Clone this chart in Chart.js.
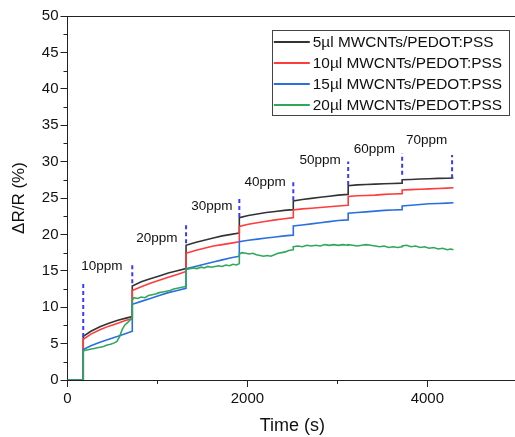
<!DOCTYPE html>
<html>
<head>
<meta charset="utf-8">
<script src="https://cdn.jsdelivr.net/npm/chart.js@4.4.0/dist/chart.umd.min.js"></script>
<style>
  html, body { margin: 0; padding: 0; background: #fff; overflow: hidden; }
  #wrap { width: 515px; height: 437px; overflow: hidden; }
</style>
</head>
<body>
<div id="wrap"><canvas id="chart" width="530" height="437"></canvas></div>
<script>
// time axis shared by the three smooth curves (s)
const time = [0, 174,
  175, 260, 360, 460, 560, 650, 719,
  720, 820, 920, 1020, 1120, 1220, 1317,
  1318, 1420, 1520, 1620, 1720, 1820, 1909,
  1910, 2010, 2110, 2210, 2310, 2410, 2509,
  2510, 2610, 2710, 2810, 2910, 3010, 3119,
  3120, 3220, 3320, 3420, 3520, 3620, 3719,
  3720, 3820, 3920, 4020, 4120, 4220, 4290];

const val5 = [0, 0,
  6.0, 6.7, 7.3, 7.8, 8.2, 8.5, 8.7,
  12.9, 13.5, 13.9, 14.3, 14.7, 15.0, 15.3,
  18.5, 18.9, 19.2, 19.5, 19.8, 20.0, 20.2,
  22.3, 22.6, 22.8, 23.0, 23.15, 23.3, 23.4,
  24.6, 24.8, 24.95, 25.1, 25.25, 25.4, 25.5,
  26.7, 26.8, 26.85, 26.9, 26.95, 27.0, 27.05,
  27.5, 27.55, 27.6, 27.65, 27.7, 27.72, 27.75];

const val10 = [0, 0,
  5.6, 6.3, 6.9, 7.4, 7.8, 8.2, 8.4,
  12.3, 12.8, 13.3, 13.7, 14.1, 14.5, 14.9,
  17.4, 17.8, 18.1, 18.4, 18.6, 18.8, 19.0,
  21.1, 21.4, 21.6, 21.8, 22.0, 22.15, 22.3,
  23.35, 23.5, 23.6, 23.7, 23.8, 23.9, 24.0,
  25.2, 25.3, 25.35, 25.4, 25.5, 25.55, 25.6,
  26.1, 26.15, 26.2, 26.25, 26.3, 26.35, 26.4];

const val15 = [0, 0,
  4.2, 4.7, 5.2, 5.6, 6.0, 6.4, 6.7,
  10.4, 10.8, 11.2, 11.6, 12.0, 12.3, 12.6,
  15.3, 15.6, 15.9, 16.2, 16.5, 16.8, 17.0,
  19.0, 19.2, 19.35, 19.5, 19.65, 19.8, 19.9,
  21.15, 21.3, 21.45, 21.6, 21.75, 21.9, 22.0,
  22.9, 23.0, 23.1, 23.2, 23.3, 23.35, 23.4,
  23.9, 24.0, 24.1, 24.2, 24.25, 24.3, 24.35];

// the 20ul curve is noisy, so it has its own time points
const time20 = [0, 174,
  175, 200, 240, 280, 320, 360, 400, 440, 480, 520, 550, 580, 610, 640, 670, 700, 719,
  720, 740, 780, 820, 860, 900, 940, 980, 1020, 1060, 1100, 1140, 1180, 1220, 1260, 1300, 1317,
  1318, 1360, 1400, 1440, 1480, 1520, 1560, 1600, 1640, 1680, 1720, 1760, 1800, 1840, 1880, 1909,
  1910, 1940, 1980, 2020, 2060, 2100, 2140, 2180, 2220, 2260, 2300, 2340, 2380, 2420, 2460, 2509,
  2510, 2560, 2610, 2660, 2710, 2760, 2810, 2860, 2910, 2960, 3010, 3060, 3119,
  3120, 3170, 3220, 3270, 3320, 3370, 3420, 3470, 3520, 3570, 3620, 3670, 3719,
  3720, 3770, 3820, 3870, 3920, 3970, 4020, 4070, 4120, 4170, 4220, 4260, 4290];

const val20 = [0, 0,
  4.0, 4.1, 4.2, 4.3, 4.4, 4.5, 4.6, 4.8, 4.9, 5.1, 5.3, 6.0, 7.0, 7.6, 7.9, 8.3, 8.6,
  11.0, 11.3, 11.2, 11.4, 11.3, 11.6, 11.7, 11.8, 12.0, 12.1, 12.2, 12.3, 12.5, 12.6, 12.7, 12.8, 12.9,
  15.2, 15.3, 15.4, 15.3, 15.5, 15.4, 15.6, 15.5, 15.6, 15.7, 15.6, 15.8, 15.7, 15.9, 15.8, 16.0,
  17.3, 17.5, 17.4, 17.3, 17.4, 17.2, 17.1, 17.0, 17.1, 17.0, 17.2, 17.4, 17.5, 17.6, 17.8, 17.9,
  18.3, 18.4, 18.3, 18.5, 18.4, 18.5, 18.4, 18.6, 18.5, 18.6, 18.5, 18.6, 18.5,
  18.6, 18.5, 18.4, 18.5, 18.6, 18.5, 18.4, 18.3, 18.4, 18.2, 18.3, 18.2, 18.3,
  18.4, 18.5, 18.3, 18.4, 18.2, 18.3, 18.1, 18.2, 18.0, 18.1, 17.9, 18.0, 17.9];

const seriesNames = ['5\u00b5l MWCNTs/PEDOT:PSS', '10\u00b5l MWCNTs/PEDOT:PSS',
  '15\u00b5l MWCNTs/PEDOT:PSS', '20\u00b5l MWCNTs/PEDOT:PSS'];

// gas injection markers
const injectTime = [175, 720, 1318, 1910, 2510, 3120, 3720, 4275];
const markTop = [13.6, 16.0, 21.5, 25.2, 27.5, 30.0, 31.1, 30.9];
const markBottom = [5.9, 13.3, 18.8, 22.4, 24.7, 26.8, 28.2, 27.7];

const ppmLabels = ['10ppm', '20ppm', '30ppm', '40ppm', '50ppm', '60ppm', '70ppm'];
const ppmTime = [382, 993, 1604, 2197, 2808, 3411, 3993];
const ppmValue = [15.6, 19.4, 23.9, 27.2, 30.2, 31.7, 32.9];

const FONT = "'Liberation Sans', Arial, sans-serif";
const colors = ['#333333', '#ff3b3b', '#2a6fdf', '#2fa85c'];

function pts(xs, ys) {
  return xs.map((x, i) => ({ x: x, y: ys[i] }));
}

const datasets = [
  { label: seriesNames[0], data: pts(time, val5), borderColor: colors[0], order: 4 },
  { label: seriesNames[1], data: pts(time, val10), borderColor: colors[1], order: 3 },
  { label: seriesNames[2], data: pts(time, val15), borderColor: colors[2], order: 2 },
  { label: seriesNames[3], data: pts(time20, val20), borderColor: colors[3], order: 1 }
].map(d => Object.assign(d, { borderWidth: 1.6, pointRadius: 0, tension: 0, fill: false }));

injectTime.forEach((t, i) => {
  datasets.push({
    label: 'marker',
    data: [{ x: t, y: markBottom[i] }, { x: t, y: markTop[i] }],
    borderColor: '#3a3aff',
    borderWidth: 2,
    borderDash: [4, 3],
    pointRadius: 0,
    order: 0
  });
});

// top frame line + short minor ticks
const axisExtras = {
  id: 'axisExtras',
  afterDraw(chart) {
    const { ctx, chartArea: a, scales: { x, y } } = chart;
    ctx.save();
    ctx.strokeStyle = '#222';
    ctx.lineWidth = 1;
    ctx.beginPath();
    ctx.moveTo(a.left, Math.round(a.top) + 0.5);
    ctx.lineTo(a.right, Math.round(a.top) + 0.5);
    ctx.moveTo(Math.round(a.right) - 0.5, a.top);
    ctx.lineTo(Math.round(a.right) - 0.5, a.bottom);
    x.ticks.forEach(t => {
      if (t.value % 2000 !== 0) {
        const px = Math.round(x.getPixelForValue(t.value)) + 0.5;
        ctx.moveTo(px, a.bottom);
        ctx.lineTo(px, a.bottom + 4);
      }
    });
    y.ticks.forEach(t => {
      if (t.value % 5 !== 0) {
        const py = Math.round(y.getPixelForValue(t.value)) + 0.5;
        ctx.moveTo(a.left - 4, py);
        ctx.lineTo(a.left, py);
      }
    });
    ctx.stroke();
    ctx.restore();
  }
};

// ppm text labels
const ppmText = {
  id: 'ppmText',
  afterDatasetsDraw(chart) {
    const { ctx, scales: { x, y } } = chart;
    ctx.save();
    ctx.font = '13.5px ' + FONT;
    ctx.fillStyle = '#111';
    ctx.textAlign = 'center';
    ctx.textBaseline = 'middle';
    ppmLabels.forEach((s, i) => {
      ctx.fillText(s, x.getPixelForValue(ppmTime[i]), y.getPixelForValue(ppmValue[i]));
    });
    ctx.restore();
  }
};

// boxed legend in the upper right
const boxLegend = {
  id: 'boxLegend',
  afterDraw(chart) {
    const { ctx, chartArea: a } = chart;
    const sets = chart.data.datasets.slice(0, 4);
    const w = 236.5, h = 85;
    const left = a.right - 9 - w, top = a.top + 14;
    ctx.save();
    ctx.fillStyle = '#fff';
    ctx.fillRect(left, top, w, h);
    ctx.strokeStyle = '#444';
    ctx.lineWidth = 1;
    ctx.strokeRect(Math.round(left) + 0.5, Math.round(top) + 0.5, Math.round(w), Math.round(h));
    ctx.font = '15.4px ' + FONT;
    ctx.textBaseline = 'middle';
    ctx.textAlign = 'left';
    sets.forEach((d, i) => {
      const yy = top + 12 + i * 21;
      ctx.strokeStyle = d.borderColor;
      ctx.lineWidth = 2;
      ctx.beginPath();
      ctx.moveTo(left + 2, yy);
      ctx.lineTo(left + 38, yy);
      ctx.stroke();
      ctx.fillStyle = '#111';
      ctx.fillText(d.label, left + 41, yy + 1);
    });
    ctx.restore();
  }
};

new Chart(document.getElementById('chart'), {
  type: 'line',
  data: { datasets: datasets },
  options: {
    responsive: false,
    animation: false,
    devicePixelRatio: 1,
    layout: { padding: { top: 16, right: 12.7, left: 0, bottom: 0 } },
    plugins: { legend: { display: false }, tooltip: { enabled: false } },
    scales: {
      x: {
        type: 'linear',
        min: 0,
        max: 5000,
        afterFit: (s) => { s.height = 57; },
        border: { display: true, color: '#222', width: 1 },
        grid: {
          drawOnChartArea: false,
          tickLength: 7,
          tickColor: (c) => (c.tick && c.tick.value % 2000 === 0 ? '#222' : 'rgba(0,0,0,0)')
        },
        ticks: {
          stepSize: 1000,
          autoSkip: false,
          maxRotation: 0,
          padding: 3,
          color: '#111',
          font: { family: FONT, size: 15 },
          callback: (v) => (v % 2000 === 0 && v < 5000 ? v : '')
        },
        title: {
          display: true,
          text: 'Time (s)',
          color: '#111',
          font: { family: FONT, size: 18 },
          padding: { top: 0, bottom: 0 }
        }
      },
      y: {
        min: 0,
        max: 50,
        afterFit: (s) => { s.width = 67.5; },
        border: { display: true, color: '#222', width: 1 },
        grid: {
          drawOnChartArea: false,
          tickLength: 7,
          tickColor: (c) => (c.tick && c.tick.value % 5 === 0 ? '#222' : 'rgba(0,0,0,0)')
        },
        ticks: {
          stepSize: 2.5,
          autoSkip: false,
          padding: 2,
          color: '#111',
          font: { family: FONT, size: 15 },
          callback: (v) => (v % 5 === 0 ? v : '')
        },
        title: {
          display: true,
          text: '\u0394R/R (%)',
          color: '#111',
          font: { family: FONT, size: 17 },
          padding: { top: 9, bottom: 0 }
        }
      }
    }
  },
  plugins: [axisExtras, ppmText, boxLegend]
});
</script>
</body>
</html>
